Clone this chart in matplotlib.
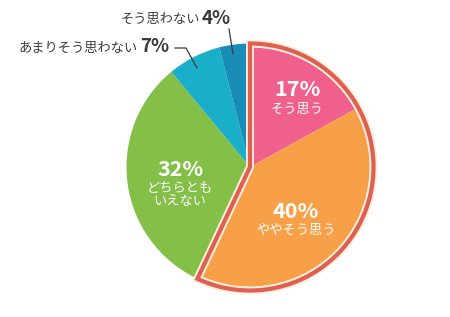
import matplotlib.pyplot as plt

plt.rcParams['font.family'] = ['Noto Sans CJK JP', 'DejaVu Sans']

# ---- data ----
labels = ['そう思う', 'ややそう思う', 'どちらとも\nいえない', 'あまりそう思わない', 'そう思わない']
values = [17, 40, 32, 7, 4]
colors = ['#f0608c', '#f7a048', '#84c048', '#1aafc8', '#1a8cb8']
n_hi = 2  # first two slices are highlighted

W, H = 450, 317
fig = plt.figure(figsize=(W / 100, H / 100), dpi=100)
ax = fig.add_axes([0, 0, 1, 1])


def Y(y):
    # pixel row -> data y
    return H - y


PT = 0.72  # px -> pt
cx, cy, r = 250, Y(167), 123.5

hi_vals = [v / 100 for v in values[:n_hi]]
lo_vals = [v / 100 for v in values[n_hi:]]
hi_total = sum(hi_vals)

# rest of the pie
ax.pie(lo_vals, normalize=False, startangle=90 - hi_total * 360,
       counterclock=False, radius=r, center=(cx, cy), colors=colors[n_hi:],
       frame=True, wedgeprops=dict(linewidth=0))

# highlighted slices
w, _ = ax.pie(hi_vals, normalize=False, startangle=90, counterclock=False,
              radius=r, center=(cx, cy), colors=colors[:n_hi], frame=True,
              wedgeprops=dict(linewidth=0))
group = w

# outline: white halo, cream inner line, red line on the edge
outline = {}
for name, col, lw in [('white', 'white', 7.5), ('cream', '#fbeede', 8), ('red', '#e0604f', 4.2)]:
    ow, _ = ax.pie([hi_total], normalize=False, startangle=90, counterclock=False,
                   radius=r, center=(cx, cy), frame=True,
                   wedgeprops=dict(facecolor='none', edgecolor=col, linewidth=lw * PT,
                                   joinstyle='miter'))
    outline[name] = ow[0]
# cream only on the inside of the group
base, _ = ax.pie([hi_total], normalize=False, startangle=90, counterclock=False,
                 radius=r, center=(cx, cy), frame=True,
                 wedgeprops=dict(facecolor='none', linewidth=0))
outline['cream'].set_clip_path(base[0])
outline['white'].set_zorder(3)
outline['cream'].set_zorder(4)
outline['red'].set_zorder(5)

# ---- inside labels ----
inside = [(297, 90, 0), (296, 211, 1), (180, 169, 2)]
for x, y, i in inside:
    ax.text(x, Y(y), f'{values[i]}%', color='white', fontsize=15.5, fontweight='bold',
            ha='center', va='center', zorder=6)
    ax.text(x, Y(y) - 13, labels[i], color='white', fontsize=9.5, ha='center', va='top',
            linespacing=1.05, zorder=6)

# ---- outside labels ----
dark = '#3a3a3a'
ax.text(200, Y(19), labels[4], color=dark, fontsize=9.5, ha='right', va='center')
ax.text(202, Y(18), f'{values[4]}%', color=dark, fontsize=13.5, fontweight='bold',
        ha='left', va='center')
ax.plot([229, 233], [Y(29), Y(54)], color=dark, lw=0.9, zorder=6)

ax.text(138, Y(48), labels[3], color=dark, fontsize=9.5, ha='right', va='center')
ax.text(140, Y(47), f'{values[3]}%', color=dark, fontsize=13.5, fontweight='bold',
        ha='left', va='center')
ax.plot([175, 186, 197], [Y(48), Y(48), Y(68)], color=dark, lw=0.9, zorder=6)

ax.set_xlim(0, W)
ax.set_ylim(0, H)
ax.set_aspect('auto')
ax.axis('off')

fig.savefig('out.png', dpi=100, facecolor='white')
